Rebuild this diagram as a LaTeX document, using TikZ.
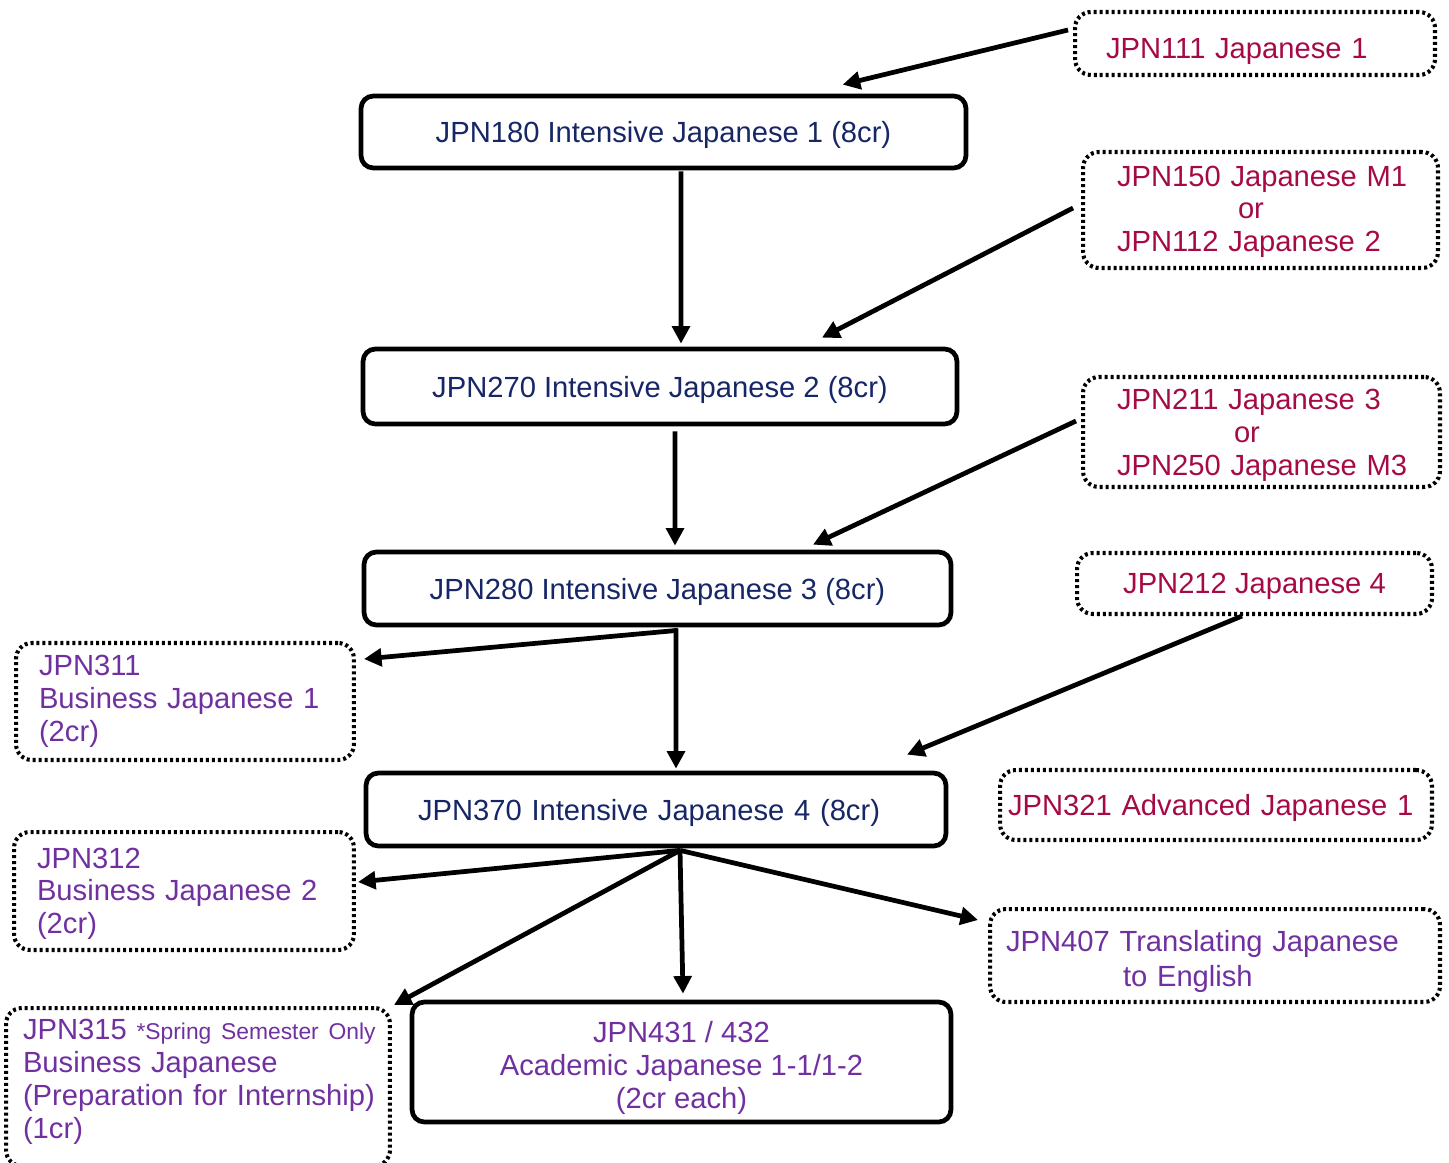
\documentclass[tikz,border=0pt]{standalone}
\usepackage{fontspec}
\setmainfont{Liberation Sans}
\usetikzlibrary{calc,arrows.meta}
\definecolor{navy}{RGB}{22,38,102}
\definecolor{crim}{RGB}{165,10,70}
\definecolor{purp}{RGB}{112,48,160}
\newcommand{\bigf}{\fontsize{16.6pt}{18.7pt}\selectfont}
\newcommand{\smallf}{\fontsize{13pt}{14pt}\selectfont}
\tikzset{
  solidbox/.style={draw=black, line width=2.7pt, rounded corners=7pt, fill=white, inner sep=0pt, font=\bigf, text=navy},
  dotbox/.style={draw=black, line width=2.3pt, dash pattern=on 1.7pt off 1.7pt, rounded corners=9pt, inner sep=0pt, font=\bigf},
  oneline/.style={text depth=0pt},
  arr/.style={line width=2.7pt, -{Triangle[length=10pt,width=10pt]}},
}
\begin{document}
\begin{tikzpicture}[x=0.02cm,y=-0.02cm]
\useasboundingbox (0,0) rectangle (1449,1162);

% main solid boxes
\node[solidbox, oneline, minimum width=12.1cm, minimum height=1.44cm] (n180) at (663.5,132) {JPN180 Intensive Japanese 1 (8cr)};
\node[solidbox, oneline, minimum width=11.88cm, minimum height=1.5cm] (n270) at (660,386.5) {JPN270 Intensive Japanese 2 (8cr)};
\node[solidbox, oneline, minimum width=11.74cm, minimum height=1.46cm] (n280) at (657.5,588.5) {JPN280 Intensive Japanese 3 (8cr)};
\node[solidbox, oneline, minimum height=1.46cm, text width=9.52cm, inner xsep=1.04cm, align=left] (n370) at (656,809.5) {\mbox{JPN370 Intensive Japanese 4 (8cr)}};
\node[solidbox, minimum width=10.78cm, minimum height=2.4cm, align=center, text=purp] (n431) at (681.5,1062) {\mbox{}\\[0pt]JPN431 / 432\\Academic Japanese 1-1/1-2\\(2cr each)};

% dotted boxes, right
\node[dotbox, text=crim, text depth=0pt, text height=0.62cm, minimum height=1.26cm, text width=5.96cm, inner xsep=0.62cm, align=left] (n111) at (1255,43.5) {\mbox{JPN111 Japanese 1}};
\node[dotbox, text=crim, minimum height=2.32cm, text width=5.74cm, inner xsep=0.68cm, align=left] (n150) at (1260.5,210) {\mbox{}\\[-0.18cm]\mbox{JPN150 Japanese M1}\\\hspace*{2.42cm}or\\\mbox{JPN112 Japanese 2}};
\node[dotbox, text=crim, minimum height=2.2cm, text width=5.78cm, inner xsep=0.68cm, align=left] (n211) at (1261.5,432) {\mbox{}\\[-0.12cm]\mbox{JPN211 Japanese 3}\\\hspace*{2.34cm}or\\\mbox{JPN250 Japanese M3}};
\node[dotbox, text=crim, oneline, minimum width=7.1cm, minimum height=1.22cm, align=center] (n212) at (1254.5,583.5) {JPN212 Japanese 4};
\node[dotbox, text=crim, oneline, minimum height=1.4cm, text width=8.32cm, inner xsep=0.16cm, align=left] (n321) at (1216,805) {\mbox{JPN321 Advanced Japanese 1}};
\node[dotbox, text=purp, minimum height=1.86cm, text width=8.36cm, inner xsep=0.32cm, align=left] (n407) at (1215,955.5) {\mbox{}\\[0.02cm]\mbox{JPN407 Translating Japanese}\\[0.04cm]\hspace*{2.34cm}\mbox{to English}};

% dotted boxes, left
\node[dotbox, text=purp, minimum height=2.34cm, text width=5.84cm, inner xsep=0.46cm, align=left] (n311) at (185,701.5) {JPN311\\\mbox{Business Japanese 1}\\(2cr)};
\node[dotbox, text=purp, minimum height=2.36cm, text width=5.88cm, inner xsep=0.46cm, align=left] (n312) at (184,891) {\mbox{}\\[-0.14cm]JPN312\\\mbox{Business Japanese 2}\\(2cr)};
\node[dotbox, text=purp, minimum height=3.16cm, text width=7.0cm, inner xsep=0.34cm, align=left] (n315) at (198,1087) {\mbox{JPN315 {\smallf *Spring Semester Only}}\\\mbox{Business Japanese}\\\mbox{(Preparation for Internship)}\\(1cr)\\[-0.32cm]\mbox{}};

% arrows
\draw[arr] ($(n111.west)+(-5,-13.5)$) -- ($(n180.north west)+(484,-9)$);
\draw[arr] ($(n180.south)+(17.5,1)$) -- ($(n270.north)+(21,-3)$);
\draw[arr] ($(n150.west)+(-8,-2)$) -- ($(n270.north)+(162,-9)$);
\draw[arr] ($(n270.south)+(15,5)$) -- ($(n280.north)+(17.5,-4)$);
\draw[arr] ($(n211.west)+(-5,-11)$) -- ($(n280.north)+(155.5,-5)$);
\draw[arr] ($(n280.south)+(20,3)$) -- ($(n311.east)+(8,-42.5)$);
\draw[arr] ($(n280.south)+(18.5,1)$) -- ($(n370.north)+(20,-2)$);
\draw[arr] ($(n212.south)+(-12.5,0)$) -- ($(n370.north)+(251,-16)$);
\draw[arr] ($(n370.south)+(24,2)$) -- ($(n312.east)+(2,-9)$);
\draw[arr] ($(n370.south)+(24,2)$) -- ($(n315.north east)+(2,-1)$);
\draw[arr] ($(n370.south)+(24,2)$) -- ($(n431.north)+(1.5,-6)$);
\draw[arr] ($(n370.south)+(24,2)$) -- ($(n407.west)+(-10,-35.5)$);
\end{tikzpicture}
\end{document}
